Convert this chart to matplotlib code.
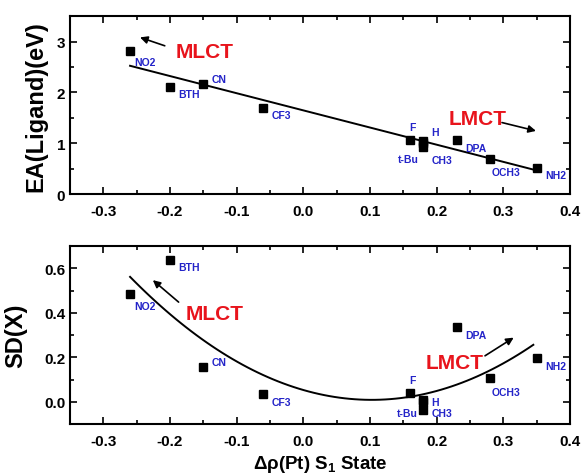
import numpy as np
import matplotlib
matplotlib.use("Agg")
import matplotlib.pyplot as plt
from matplotlib.ticker import MultipleLocator

plt.rcParams["font.family"] = ["Liberation Sans", "DejaVu Sans"]
plt.rcParams["axes.unicode_minus"] = False
plt.rcParams["mathtext.fontset"] = "custom"
plt.rcParams["mathtext.rm"] = "Liberation Sans"
plt.rcParams["mathtext.bf"] = "Liberation Sans:bold"

# ligands and data
names = ["NO2", "BTH", "CN", "CF3", "F", "H", "t-Bu", "CH3", "DPA", "OCH3", "NH2"]
drho = [-0.26, -0.20, -0.15, -0.06, 0.16, 0.18, 0.18, 0.18, 0.23, 0.28, 0.35]
ea = [2.82, 2.11, 2.17, 1.70, 1.06, 1.04, 1.00, 0.93, 1.06, 0.70, 0.52]
sd = [0.483, 0.637, 0.156, 0.033, 0.039, 0.010, 0.000, -0.036, 0.338, 0.105, 0.196]

# label positions (x, y, ha) for each panel
ea_lbl = [(-0.254, 2.60, "left"), (-0.187, 1.96, "left"), (-0.138, 2.26, "left"),
          (-0.047, 1.55, "left"), (0.163, 1.32, "center"), (0.197, 1.23, "center"),
          (0.157, 0.70, "center"), (0.192, 0.67, "left"), (0.243, 0.91, "left"),
          (0.283, 0.44, "left"), (0.363, 0.38, "left")]
sd_lbl = [(-0.254, 0.432, "left"), (-0.187, 0.604, "left"), (-0.138, 0.178, "left"),
          (-0.047, -0.001, "left"), (0.163, 0.099, "center"), (0.192, 0.001, "left"),
          (0.172, -0.05, "right"), (0.192, -0.05, "left"), (0.243, 0.30, "left"),
          (0.283, 0.046, "left"), (0.363, 0.16, "left")]

fig = plt.figure(figsize=(5.84, 4.77), dpi=100)
ax1 = fig.add_axes([0.12, 0.591, 0.856, 0.373])
ax2 = fig.add_axes([0.12, 0.109, 0.856, 0.373])

red = "#e8141c"
blue = "#2323c8"


def style(ax):
    ax.set_xlim(-0.35, 0.4)
    ax.xaxis.set_major_locator(MultipleLocator(0.1))
    ax.xaxis.set_minor_locator(MultipleLocator(0.05))
    ax.tick_params(which="both", direction="in", top=True, right=True, width=1.2)
    ax.tick_params(which="major", length=5, labelsize=11)
    ax.tick_params(which="minor", length=3)
    ax.tick_params(axis="x", which="major", pad=7)
    for s in ax.spines.values():
        s.set_linewidth(1.5)
    for t in ax.get_xticklabels() + ax.get_yticklabels():
        t.set_fontweight("bold")


def arrow(ax, start, end):
    ax.annotate("", xy=end, xytext=start,
                arrowprops=dict(arrowstyle="-|>", color="black", lw=1.2, mutation_scale=11))


# top: EA vs drho with linear fit
x = np.array(drho)
ax1.plot(drho, ea, "s", color="black", ms=5.5)
p1 = np.polyfit(x, ea, 1)
xf = np.linspace(-0.26, 0.35, 50)
ax1.plot(xf, np.polyval(p1, xf), color="black", lw=1.4)
ax1.set_ylim(0, 3.5)
ax1.yaxis.set_major_locator(MultipleLocator(1))
ax1.yaxis.set_minor_locator(MultipleLocator(0.5))
for n, (lx, ly, ha) in zip(names, ea_lbl):
    ax1.text(lx, ly, n, color=blue, fontsize=7.5, fontweight="bold", ha=ha, va="center")
ax1.text(-0.191, 2.80, "MLCT", color=red, fontsize=15, fontweight="bold", va="center")
arrow(ax1, (-0.204, 2.90), (-0.249, 3.10))
ax1.text(0.218, 1.48, "LMCT", color=red, fontsize=15, fontweight="bold", va="center")
arrow(ax1, (0.294, 1.42), (0.353, 1.23))
ax1.set_ylabel("EA(Ligand)(eV)", fontsize=17, fontweight="bold")
style(ax1)

# bottom: SD vs drho with quadratic fit
ax2.plot(drho, sd, "s", color="black", ms=5.5)
p2 = np.polyfit(x, sd, 2)
xf2 = np.linspace(-0.26, 0.345, 80)
ax2.plot(xf2, np.polyval(p2, xf2), color="black", lw=1.4)
ax2.set_ylim(-0.1, 0.7)
ax2.yaxis.set_major_locator(MultipleLocator(0.2))
ax2.yaxis.set_minor_locator(MultipleLocator(0.1))
for n, (lx, ly, ha) in zip(names, sd_lbl):
    ax2.text(lx, ly, n, color=blue, fontsize=7.5, fontweight="bold", ha=ha, va="center")
ax2.text(-0.176, 0.395, "MLCT", color=red, fontsize=15, fontweight="bold", va="center")
arrow(ax2, (-0.184, 0.44), (-0.229, 0.555))
ax2.text(0.183, 0.178, "LMCT", color=red, fontsize=15, fontweight="bold", va="center")
arrow(ax2, (0.269, 0.20), (0.319, 0.295))
ax2.set_ylabel("SD(X)", fontsize=17, fontweight="bold")
ax2.set_xlabel("Δρ(Pt) S$_\\mathbf{1}$ State", fontsize=13.5, fontweight="bold")
style(ax2)

ax1.yaxis.set_label_coords(-0.045, 0.5)
ax2.yaxis.set_label_coords(-0.085, 0.5)

fig.savefig("out.png", dpi=100)
